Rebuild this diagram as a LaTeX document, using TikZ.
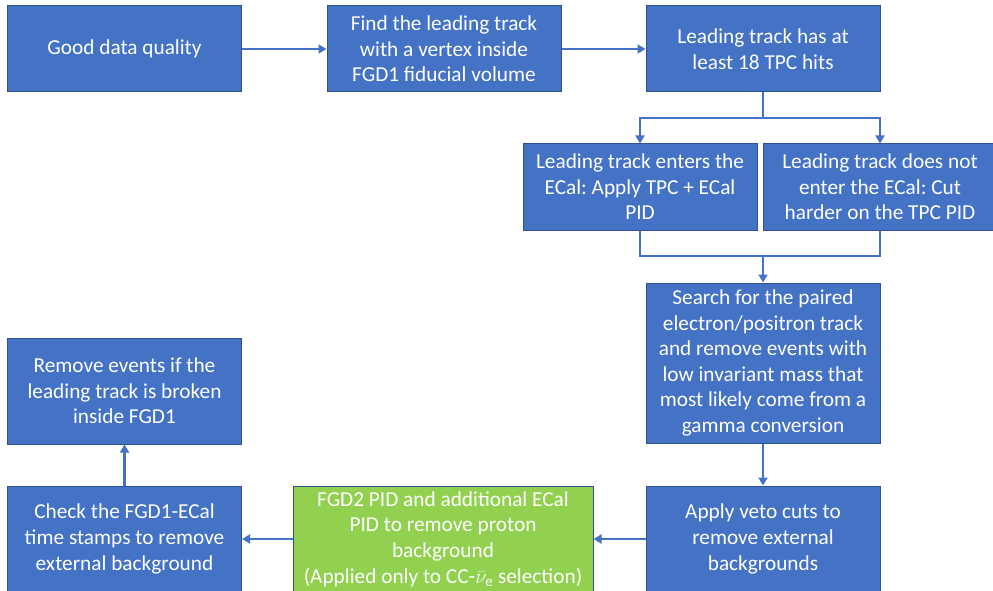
\documentclass[tikz,border=0pt]{standalone}
\usepackage{fontspec}
\setmainfont{Carlito}
\usetikzlibrary{arrows.meta}
\definecolor{boxblue}{HTML}{4472C4}
\definecolor{boxedge}{HTML}{2F528F}
\definecolor{boxgreen}{HTML}{92D050}
\tikzset{
  stepbox/.style={draw=boxedge, line width=1pt, fill=boxblue, text=white, align=center,
    inner sep=0pt, minimum width=234pt, font=\fontsize{21.3}{25.6}\selectfont\frenchspacing},
  greenbox/.style={stepbox, fill=boxgreen, minimum width=300pt},
  conn/.style={draw=boxblue, line width=2.2pt},
  arr/.style={conn, -{Triangle[length=8pt,width=9pt]}},
}
\begin{document}
\begin{tikzpicture}[x=1pt,y=-1pt]
\useasboundingbox (0,0) rectangle (993,591);
\clip (0,0) rectangle (993,591);
\node[stepbox, minimum height=86pt] (b1) at (124.5,49) {Good data quality};
\node[stepbox, minimum height=86pt] (b2) at (444,49) {Find the leading track\\with a vertex inside\\FGD1 fiducial volume};
\node[stepbox, minimum height=86pt] (b3) at (763,49) {Leading track has at\\least 18 TPC hits};
\node[stepbox, minimum height=86pt] (b4) at (640,187) {Leading track enters the\\ECal: Apply TPC + ECal\\PID};
\node[stepbox, minimum height=86pt] (b5) at (880,187) {Leading track does not\\enter the ECal: Cut\\harder on the TPC PID};
\node[stepbox, minimum height=160pt] (b6) at (763,363) {Search for the paired\\electron/positron track\\and remove events with\\low invariant mass that\\most likely come from a\\gamma conversion};
\node[stepbox, minimum height=106pt] (b7) at (763,539) {Apply veto cuts to\\remove external\\backgrounds};
\node[greenbox, minimum height=106pt] (g) at (443,539) {FGD2 PID and additional ECal\\PID to remove proton\\background\\(Applied only to CC-$\bar{\nu}_{\mathrm{e}}$ selection)};
\node[stepbox, minimum height=106pt] (b8) at (124.5,539) {Check the FGD1-ECal\\time stamps to remove\\external background};
\node[stepbox, minimum height=106pt] (b9) at (124.5,391) {Remove events if the\\leading track is broken\\inside FGD1};
\coordinate (s) at (763,118);
\coordinate (m) at (763,256);
\draw[arr] (b1) -- (b2);
\draw[arr] (b2) -- (b3);
\draw[conn] (b3.south) -- (s);
\draw[arr] (s) -| (b4.north);
\draw[arr] (s) -| (b5.north);
\draw[conn] (b4.south) |- (m);
\draw[conn] (b5.south) |- (m);
\draw[arr] (m) -- (b6.north);
\draw[arr] (b6) -- (b7);
\draw[arr] (b7) -- (g);
\draw[arr] (g) -- (b8);
\draw[arr] (b8) -- (b9);
\end{tikzpicture}
\end{document}
